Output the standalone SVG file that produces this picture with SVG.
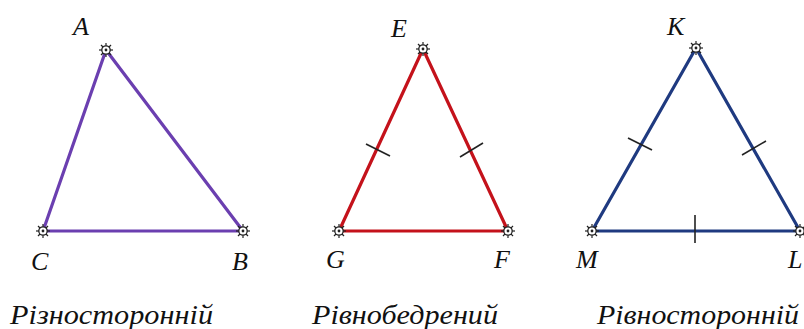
<svg xmlns="http://www.w3.org/2000/svg" xmlns:xlink="http://www.w3.org/1999/xlink" width="804" height="329" viewBox="0 0 804 329">
<style>
.lbl{font-family:"Liberation Serif","DejaVu Serif",serif;font-style:italic;font-size:26px;fill:#111}
.cap{font-family:"Liberation Serif","DejaVu Serif",serif;font-style:italic;font-size:28px;fill:#111}
.side{fill:none;stroke-width:3.2;stroke-linejoin:round;stroke-linecap:round}
.tick{stroke:#222;stroke-width:1.6;fill:none}
</style>
<defs>
<g id="pt">
<g stroke="#222" stroke-width="1.2">
<line x1="0" y1="-7" x2="0" y2="7"/>
<line x1="-7" y1="0" x2="7" y2="0"/>
<line x1="-5" y1="-5" x2="5" y2="5"/>
<line x1="-5" y1="5" x2="5" y2="-5"/>
</g>
<circle r="4.2" fill="#fff" stroke="#222" stroke-width="1.3"/>
<circle r="1.4" fill="#222"/>
</g>
</defs>
<rect width="804" height="329" fill="#fff"/>
<g id="connectors">
<polygon class="side" stroke="#6b3fb0" points="106,50 243,231 43,231"/>
<polygon class="side" stroke="#c4121b" points="423,49 508,231 339,231"/>
<polygon class="side" stroke="#1f3a80" points="696,48 800,231 592,231"/>
<line class="tick" x1="366" y1="144" x2="390" y2="156"/>
<line class="tick" x1="460" y1="157" x2="483" y2="143"/>
<line class="tick" x1="628" y1="138" x2="652" y2="150"/>
<line class="tick" x1="742" y1="155" x2="766" y2="141"/>
<line class="tick" x1="695" y1="215" x2="695" y2="243"/>
</g>
<g id="node-A"><use xlink:href="#pt" x="106" y="50"/><text class="lbl" x="73" y="35">A</text></g>
<g id="node-B"><use xlink:href="#pt" x="243" y="231"/><text class="lbl" x="232" y="270">B</text></g>
<g id="node-C"><use xlink:href="#pt" x="43" y="231"/><text class="lbl" x="31" y="270">C</text></g>
<g id="node-E"><use xlink:href="#pt" x="423" y="49"/><text class="lbl" x="391" y="37">E</text></g>
<g id="node-F"><use xlink:href="#pt" x="508" y="231"/><text class="lbl" x="494" y="268">F</text></g>
<g id="node-G"><use xlink:href="#pt" x="339" y="231"/><text class="lbl" x="326" y="268">G</text></g>
<g id="node-K"><use xlink:href="#pt" x="696" y="48"/><text class="lbl" x="667" y="35">K</text></g>
<g id="node-L"><use xlink:href="#pt" x="800" y="231"/><text class="lbl" x="788" y="268">L</text></g>
<g id="node-M"><use xlink:href="#pt" x="592" y="231"/><text class="lbl" x="576" y="268">M</text></g>
<g id="captions">
<text class="cap" x="10" y="324" textLength="203" lengthAdjust="spacingAndGlyphs">Різносторонній</text>
<text class="cap" x="312" y="324" textLength="186" lengthAdjust="spacingAndGlyphs">Рівнобедрений</text>
<text class="cap" x="597" y="324" textLength="202" lengthAdjust="spacingAndGlyphs">Рівносторонній</text>
</g>
</svg>
